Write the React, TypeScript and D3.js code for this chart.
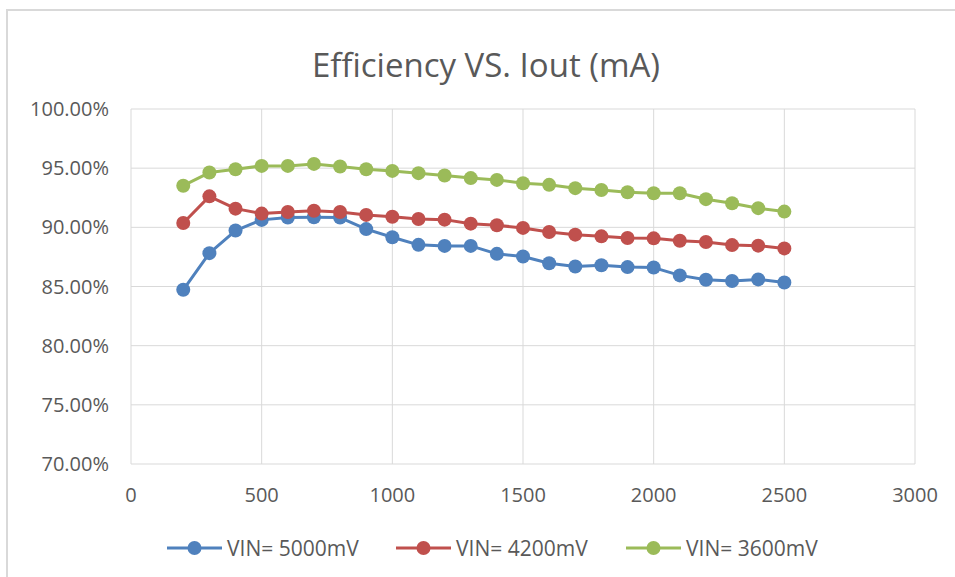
import { useEffect, useRef } from 'react'
import * as d3 from 'd3'

const iout = [200, 300, 400, 500, 600, 700, 800, 900, 1000, 1100, 1200, 1300, 1400, 1500, 1600, 1700, 1800, 1900, 2000, 2100, 2200, 2300, 2400, 2500]

const vin5000 = [84.72, 87.82, 89.73, 90.63, 90.83, 90.85, 90.83, 89.85, 89.16, 88.52, 88.43, 88.43, 87.76, 87.53, 86.97, 86.69, 86.8, 86.64, 86.6, 85.94, 85.57, 85.46, 85.6, 85.34]
const vin4200 = [90.37, 92.62, 91.58, 91.16, 91.3, 91.4, 91.3, 91.05, 90.9, 90.71, 90.65, 90.31, 90.17, 89.95, 89.61, 89.38, 89.24, 89.1, 89.07, 88.87, 88.76, 88.5, 88.45, 88.22]
const vin3600 = [93.52, 94.63, 94.91, 95.19, 95.19, 95.36, 95.14, 94.91, 94.77, 94.58, 94.38, 94.16, 94.01, 93.73, 93.59, 93.31, 93.16, 92.97, 92.88, 92.88, 92.38, 92.04, 91.62, 91.33]

const seriesNames = ['VIN= 5000mV', 'VIN= 4200mV', 'VIN= 3600mV']
const seriesColors = ['#4f81bd', '#c0504d', '#9bbb59']
const xTicks = [0, 500, 1000, 1500, 2000, 2500, 3000]
const yTicks = [70, 75, 80, 85, 90, 95, 100]

const W = 955
const H = 577
const FONT = '"Open Sans", sans-serif'

export default function App() {
  const ref = useRef<SVGSVGElement>(null)

  useEffect(() => {
    if (!ref.current) return
    const svg = d3.select(ref.current)
    svg.selectAll('*').remove()

    const plot = { left: 131, right: 915, top: 109, bottom: 464 }
    const x = d3.scaleLinear().domain([0, 3000]).range([plot.left, plot.right])
    const y = d3.scaleLinear().domain([70, 100]).range([plot.bottom, plot.top])

    // cadre du graphique
    svg.append('rect')
      .attr('x', 7).attr('y', 10)
      .attr('width', W + 20).attr('height', H + 20)
      .attr('fill', '#fff')
      .attr('stroke', '#d9d9d9')
      .attr('stroke-width', 2)

    // titre
    svg.append('text')
      .attr('x', 486).attr('y', 77)
      .attr('text-anchor', 'middle')
      .attr('font-family', FONT)
      .attr('font-size', 33)
      .attr('fill', '#595959')
      .text('Efficiency VS. Iout (mA)')

    // grille
    svg.append('g').selectAll('line')
      .data(yTicks)
      .enter().append('line')
      .attr('x1', plot.left).attr('x2', plot.right)
      .attr('y1', d => y(d)).attr('y2', d => y(d))
      .attr('stroke', '#d9d9d9').attr('stroke-width', 1)
    svg.append('g').selectAll('line')
      .data(xTicks)
      .enter().append('line')
      .attr('y1', plot.top).attr('y2', plot.bottom)
      .attr('x1', d => x(d)).attr('x2', d => x(d))
      .attr('stroke', '#d9d9d9').attr('stroke-width', 1)

    // étiquettes des axes
    svg.append('g').selectAll('text')
      .data(yTicks)
      .enter().append('text')
      .attr('x', 109)
      .attr('y', d => y(d) + 7)
      .attr('text-anchor', 'end')
      .attr('font-family', FONT)
      .attr('font-size', 20)
      .attr('fill', '#595959')
      .text(d => d3.format('.2f')(d) + '%')
    svg.append('g').selectAll('text')
      .data(xTicks)
      .enter().append('text')
      .attr('x', d => x(d))
      .attr('y', 502)
      .attr('text-anchor', 'middle')
      .attr('font-family', FONT)
      .attr('font-size', 20)
      .attr('fill', '#595959')
      .text(d => String(d))

    // séries
    const allSeries = [vin5000, vin4200, vin3600]
    const line = d3.line<number>()
      .x((_, i) => x(iout[i]))
      .y(d => y(d))

    allSeries.forEach((vals, si) => {
      const g = svg.append('g')
      g.append('path')
        .datum(vals)
        .attr('d', line)
        .attr('fill', 'none')
        .attr('stroke', seriesColors[si])
        .attr('stroke-width', 3)
        .attr('stroke-linejoin', 'round')
      g.selectAll('circle')
        .data(vals)
        .enter().append('circle')
        .attr('cx', (_, i) => x(iout[i]))
        .attr('cy', d => y(d))
        .attr('r', 7)
        .attr('fill', seriesColors[si])
    })

    // légende
    const legendX = [167, 396, 626]
    const legendY = 548
    seriesNames.forEach((name, i) => {
      const g = svg.append('g').attr('transform', `translate(${legendX[i]},${legendY})`)
      g.append('line')
        .attr('x1', 0).attr('x2', 55)
        .attr('stroke', seriesColors[i]).attr('stroke-width', 3)
      g.append('circle')
        .attr('cx', 27.5).attr('r', 7)
        .attr('fill', seriesColors[i])
      g.append('text')
        .attr('x', 60).attr('y', 8)
        .attr('font-family', FONT)
        .attr('font-size', 21)
        .attr('fill', '#595959')
        .text(name)
    })
  }, [])

  return (
    <svg ref={ref} width={W} height={H}
      style={{ position: 'absolute', left: 0, top: 0, background: '#fff' }} />
  )
}
